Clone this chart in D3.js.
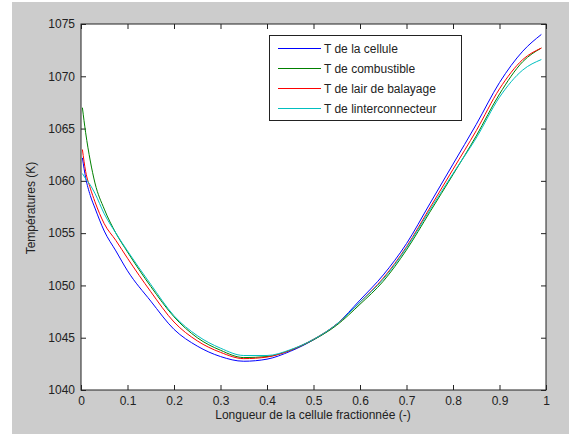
<!DOCTYPE html>
<html><head><meta charset="utf-8">
<script src="https://cdn.jsdelivr.net/npm/d3@7"></script>
<style>
html,body{margin:0;padding:0;background:#fff;}
svg{display:block;font-family:"Liberation Sans",Arial,sans-serif;}
</style></head>
<body>
<script>
// ---- data ----
const xs = [0.003,0.01,0.02,0.03,0.05,0.075,0.1,0.15,0.2,0.25,0.3,0.35,0.4,0.45,0.5,0.55,0.6,0.65,0.7,0.75,0.8,0.85,0.9,0.95,0.99];
const tCellule =        [1062.2,1060.3,1058.6,1057.4,1055.2,1053.3,1051.4,1048.5,1045.8,1044.2,1043.2,1042.75,1042.95,1043.7,1044.8,1046.3,1048.6,1051.0,1054.0,1057.8,1061.6,1065.4,1069.4,1072.4,1074.0];
const tCombustible =    [1067.0,1064.6,1061.9,1059.8,1057.3,1055.0,1053.2,1049.9,1047.0,1045.0,1043.8,1043.1,1043.2,1043.8,1044.8,1046.2,1048.2,1050.4,1053.4,1057.0,1060.6,1064.3,1068.3,1071.4,1072.7];
const tAirBalayage =    [1063.0,1060.9,1059.3,1058.0,1055.9,1054.3,1052.6,1049.4,1046.5,1044.7,1043.6,1043.0,1043.15,1043.8,1044.85,1046.3,1048.4,1050.7,1053.7,1057.4,1061.1,1064.8,1068.8,1071.6,1072.7];
const tInterconnecteur =[1060.7,1060.2,1059.6,1058.8,1056.85,1055.0,1053.3,1050.1,1047.1,1045.2,1044.0,1043.3,1043.3,1043.85,1044.85,1046.3,1048.4,1050.6,1053.6,1057.2,1060.7,1064.1,1068.0,1070.6,1071.6];
const seriesNames = ["T de la cellule","T de combustible","T de lair de balayage","T de linterconnecteur"];
const seriesColors = ["#0000ff","#008000","#ff0000","#00bfbf"];
const xTicks = [0,0.1,0.2,0.3,0.4,0.5,0.6,0.7,0.8,0.9,1];
const yTicks = [1040,1045,1050,1055,1060,1065,1070,1075];
const xLabel = "Longueur de la cellule fractionnée (-)";
const yLabel = "Températures (K)";

const W = 569, H = 434;
const L = 81, R = 546, T = 24, B = 390;

const svg = d3.select("body").append("svg").attr("width", W).attr("height", H);
svg.append("rect").attr("width", W).attr("height", H).attr("fill", "#fff");
svg.append("rect").attr("x", 12).attr("y", 2).attr("width", W - 12).attr("height", H - 2).attr("fill", "#cccccc");
svg.append("rect").attr("x", L).attr("y", T).attr("width", R - L).attr("height", B - T).attr("fill", "#fff");

const x = d3.scaleLinear().domain([0, 1]).range([L, R]);
const y = d3.scaleLinear().domain([1040, 1075]).range([B, T]);

const fmtX = d => d === 0 ? "0" : d === 1 ? "1" : d3.format(".1f")(d);

// axes (ticks inward)
const gB = svg.append("g").attr("transform", `translate(0,${B})`)
  .call(d3.axisBottom(x).tickValues(xTicks).tickFormat(fmtX).tickSizeInner(-5).tickSizeOuter(0).tickPadding(6));
const gT = svg.append("g").attr("transform", `translate(0,${T})`)
  .call(d3.axisTop(x).tickValues(xTicks).tickFormat("").tickSizeInner(-5).tickSizeOuter(0));
const gL = svg.append("g").attr("transform", `translate(${L},0)`)
  .call(d3.axisLeft(y).tickValues(yTicks).tickFormat(d3.format("d")).tickSizeInner(-5).tickSizeOuter(0).tickPadding(6));
const gR = svg.append("g").attr("transform", `translate(${R},0)`)
  .call(d3.axisRight(y).tickValues(yTicks).tickFormat("").tickSizeInner(-5).tickSizeOuter(0));
[gB,gT,gL,gR].forEach(g => {
  g.selectAll(".domain").remove();
  g.selectAll(".tick line").attr("stroke", "#222");
  g.selectAll("text").attr("font-size", 12).attr("fill", "#222").attr("font-family", '"Liberation Sans",Arial,sans-serif');
});
svg.append("rect").attr("x", L).attr("y", T).attr("width", R - L).attr("height", B - T)
  .attr("fill", "none").attr("stroke", "#222").attr("stroke-width", 1);

// lines
const allSeries = [tCellule, tCombustible, tAirBalayage, tInterconnecteur];
const line = d3.line().x((d, i) => x(xs[i])).y(d => y(d)).curve(d3.curveMonotoneX);
allSeries.forEach((s, k) => {
  svg.append("path").datum(s).attr("d", line).attr("fill", "none")
    .attr("stroke", seriesColors[k]).attr("stroke-width", 1);
});

// labels
svg.append("text").attr("x", 313).attr("y", 419).attr("text-anchor", "middle")
  .attr("font-size", 12).attr("fill", "#222").text(xLabel);
svg.append("text").attr("transform", "translate(35,208) rotate(-90)").attr("text-anchor", "middle")
  .attr("font-size", 12).attr("fill", "#222").text(yLabel);

// legend
const lg = svg.append("g");
lg.append("rect").attr("x", 269.5).attr("y", 35.5).attr("width", 192).attr("height", 85)
  .attr("fill", "#fff").attr("stroke", "#222");
seriesNames.forEach((n, k) => {
  const yy = 48.5 + k * 20;
  lg.append("line").attr("x1", 278).attr("x2", 321).attr("y1", yy).attr("y2", yy)
    .attr("stroke", seriesColors[k]).attr("stroke-width", 1);
  lg.append("text").attr("x", 324).attr("y", yy + 4.5).attr("font-size", 12).attr("fill", "#222").text(n);
});
</script>
</body></html>
